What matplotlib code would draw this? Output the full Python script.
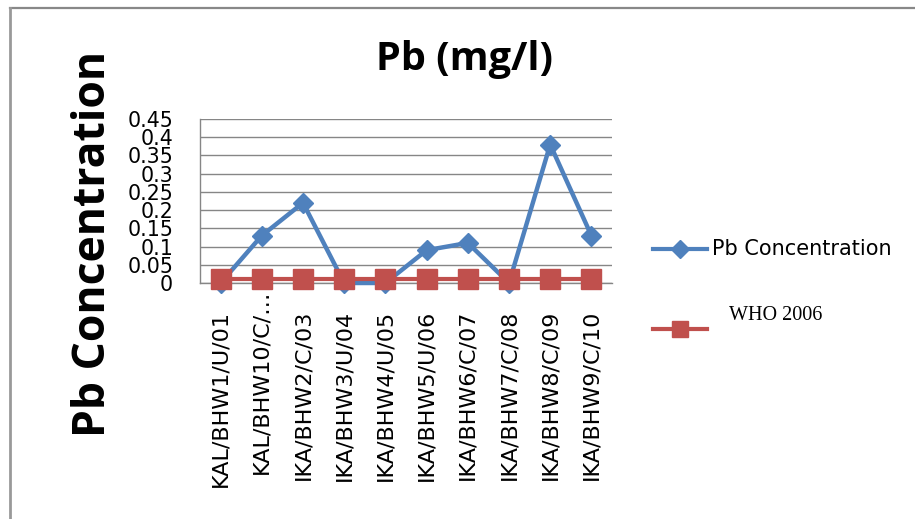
import matplotlib
matplotlib.use("Agg")
import matplotlib.pyplot as plt
import matplotlib.transforms as mtransforms
from matplotlib.lines import Line2D

categories = ["KAL/BHW1/U/01", "KAL/BHW10/C/\u2026", "IKA/BHW2/C/03", "IKA/BHW3/U/04",
              "IKA/BHW4/U/05", "IKA/BHW5/U/06", "IKA/BHW6/C/07", "IKA/BHW7/C/08",
              "IKA/BHW8/C/09", "IKA/BHW9/C/10"]
pb_values = [0.0, 0.13, 0.22, 0.0, 0.0, 0.09, 0.11, 0.0, 0.38, 0.13]
who_values = [0.01] * 10
y_ticks = [0, 0.05, 0.1, 0.15, 0.2, 0.25, 0.3, 0.35, 0.4, 0.45]
y_tick_labels = ["0", "0.05", "0.1", "0.15", "0.2", "0.25", "0.3", "0.35", "0.4", "0.45"]

BLUE = "#4F81BD"
RED = "#C0504D"
GRID = "#868686"

W, H = 915, 519
fig = plt.figure(figsize=(W / 100, H / 100), dpi=100)
ax = fig.add_axes([200 / W, 1 - 283 / H, 412 / W, (283 - 119) / H])

x = list(range(len(categories)))
ax.plot(x, pb_values, color=BLUE, lw=3.2, marker="D", ms=10, mec=BLUE, mfc=BLUE,
        clip_on=False, zorder=3)
ax.plot(x, who_values, color=RED, lw=3.0, marker="s", ms=14, mec=RED, mfc=RED,
        clip_on=False, zorder=4)

ax.set_xlim(-0.5, len(categories) - 0.5)
ax.set_ylim(0, 0.45)
ax.set_yticks(y_ticks)
ax.set_yticklabels(y_tick_labels, fontsize=14.8, family="DejaVu Sans")
ax.set_xticks(x)
shown = [c if i != 1 else "" for i, c in enumerate(categories)]
ax.set_xticklabels(shown, rotation=90, fontsize=16, family="DejaVu Sans",
                   va="top", ha="center")
ax.tick_params(axis="both", length=0)
ax.tick_params(axis="y", pad=19.4)
ax.tick_params(axis="x", pad=19.4)

# the truncated second label sits higher than the others
trans = mtransforms.blended_transform_factory(ax.transData, ax.transAxes) + \
    mtransforms.ScaledTranslation(0, -7 / 100, fig.dpi_scale_trans)
ax.text(x[1], 0, categories[1], transform=trans, rotation=90, fontsize=16,
        family="DejaVu Sans", va="top", ha="center")

ax.grid(axis="y", color=GRID, lw=1.0)
ax.set_axisbelow(True)
for s in ["top", "right"]:
    ax.spines[s].set_visible(False)
for s in ["left", "bottom"]:
    ax.spines[s].set_color(GRID)
    ax.spines[s].set_linewidth(1.0)

# title and y label
fig.text(464 / W, 1 - 60 / H, "Pb (mg/l)", ha="center", va="center",
         fontsize=28.5, fontweight="bold", family="Open Sans")
fig.text(94 / W, 1 - 244 / H, "Pb Concentration", ha="center", va="center",
         rotation=90, fontsize=32, fontweight="bold", family="Open Sans")

# legend (manual)
fig.add_artist(Line2D([653 / W, 707 / W], [1 - 249 / H] * 2, transform=fig.transFigure,
                      color=BLUE, lw=3.0))
fig.add_artist(Line2D([680 / W], [1 - 249 / H], transform=fig.transFigure,
                      marker="D", ms=9, color=BLUE, lw=0))
fig.text(712 / W, 1 - 249 / H, "Pb Concentration", ha="left", va="center",
         fontsize=15, family="DejaVu Sans")
fig.add_artist(Line2D([653 / W, 707 / W], [1 - 329 / H] * 2, transform=fig.transFigure,
                      color=RED, lw=3.0))
fig.add_artist(Line2D([680 / W], [1 - 329 / H], transform=fig.transFigure,
                      marker="s", ms=11.5, color=RED, lw=0))
fig.text(729 / W, 1 - 315 / H, "WHO 2006", ha="left", va="center",
         fontsize=14.5, family="Liberation Serif")

# outer chart border (top and left visible)
fig.add_artist(Line2D([9.5 / W, 1.01], [1 - 7.5 / H] * 2, transform=fig.transFigure,
                      color="#888888", lw=1.6))
fig.add_artist(Line2D([9.5 / W] * 2, [-0.01, 1 - 7.5 / H], transform=fig.transFigure,
                      color="#999999", lw=2.0))

fig.savefig("out.png", dpi=100)
